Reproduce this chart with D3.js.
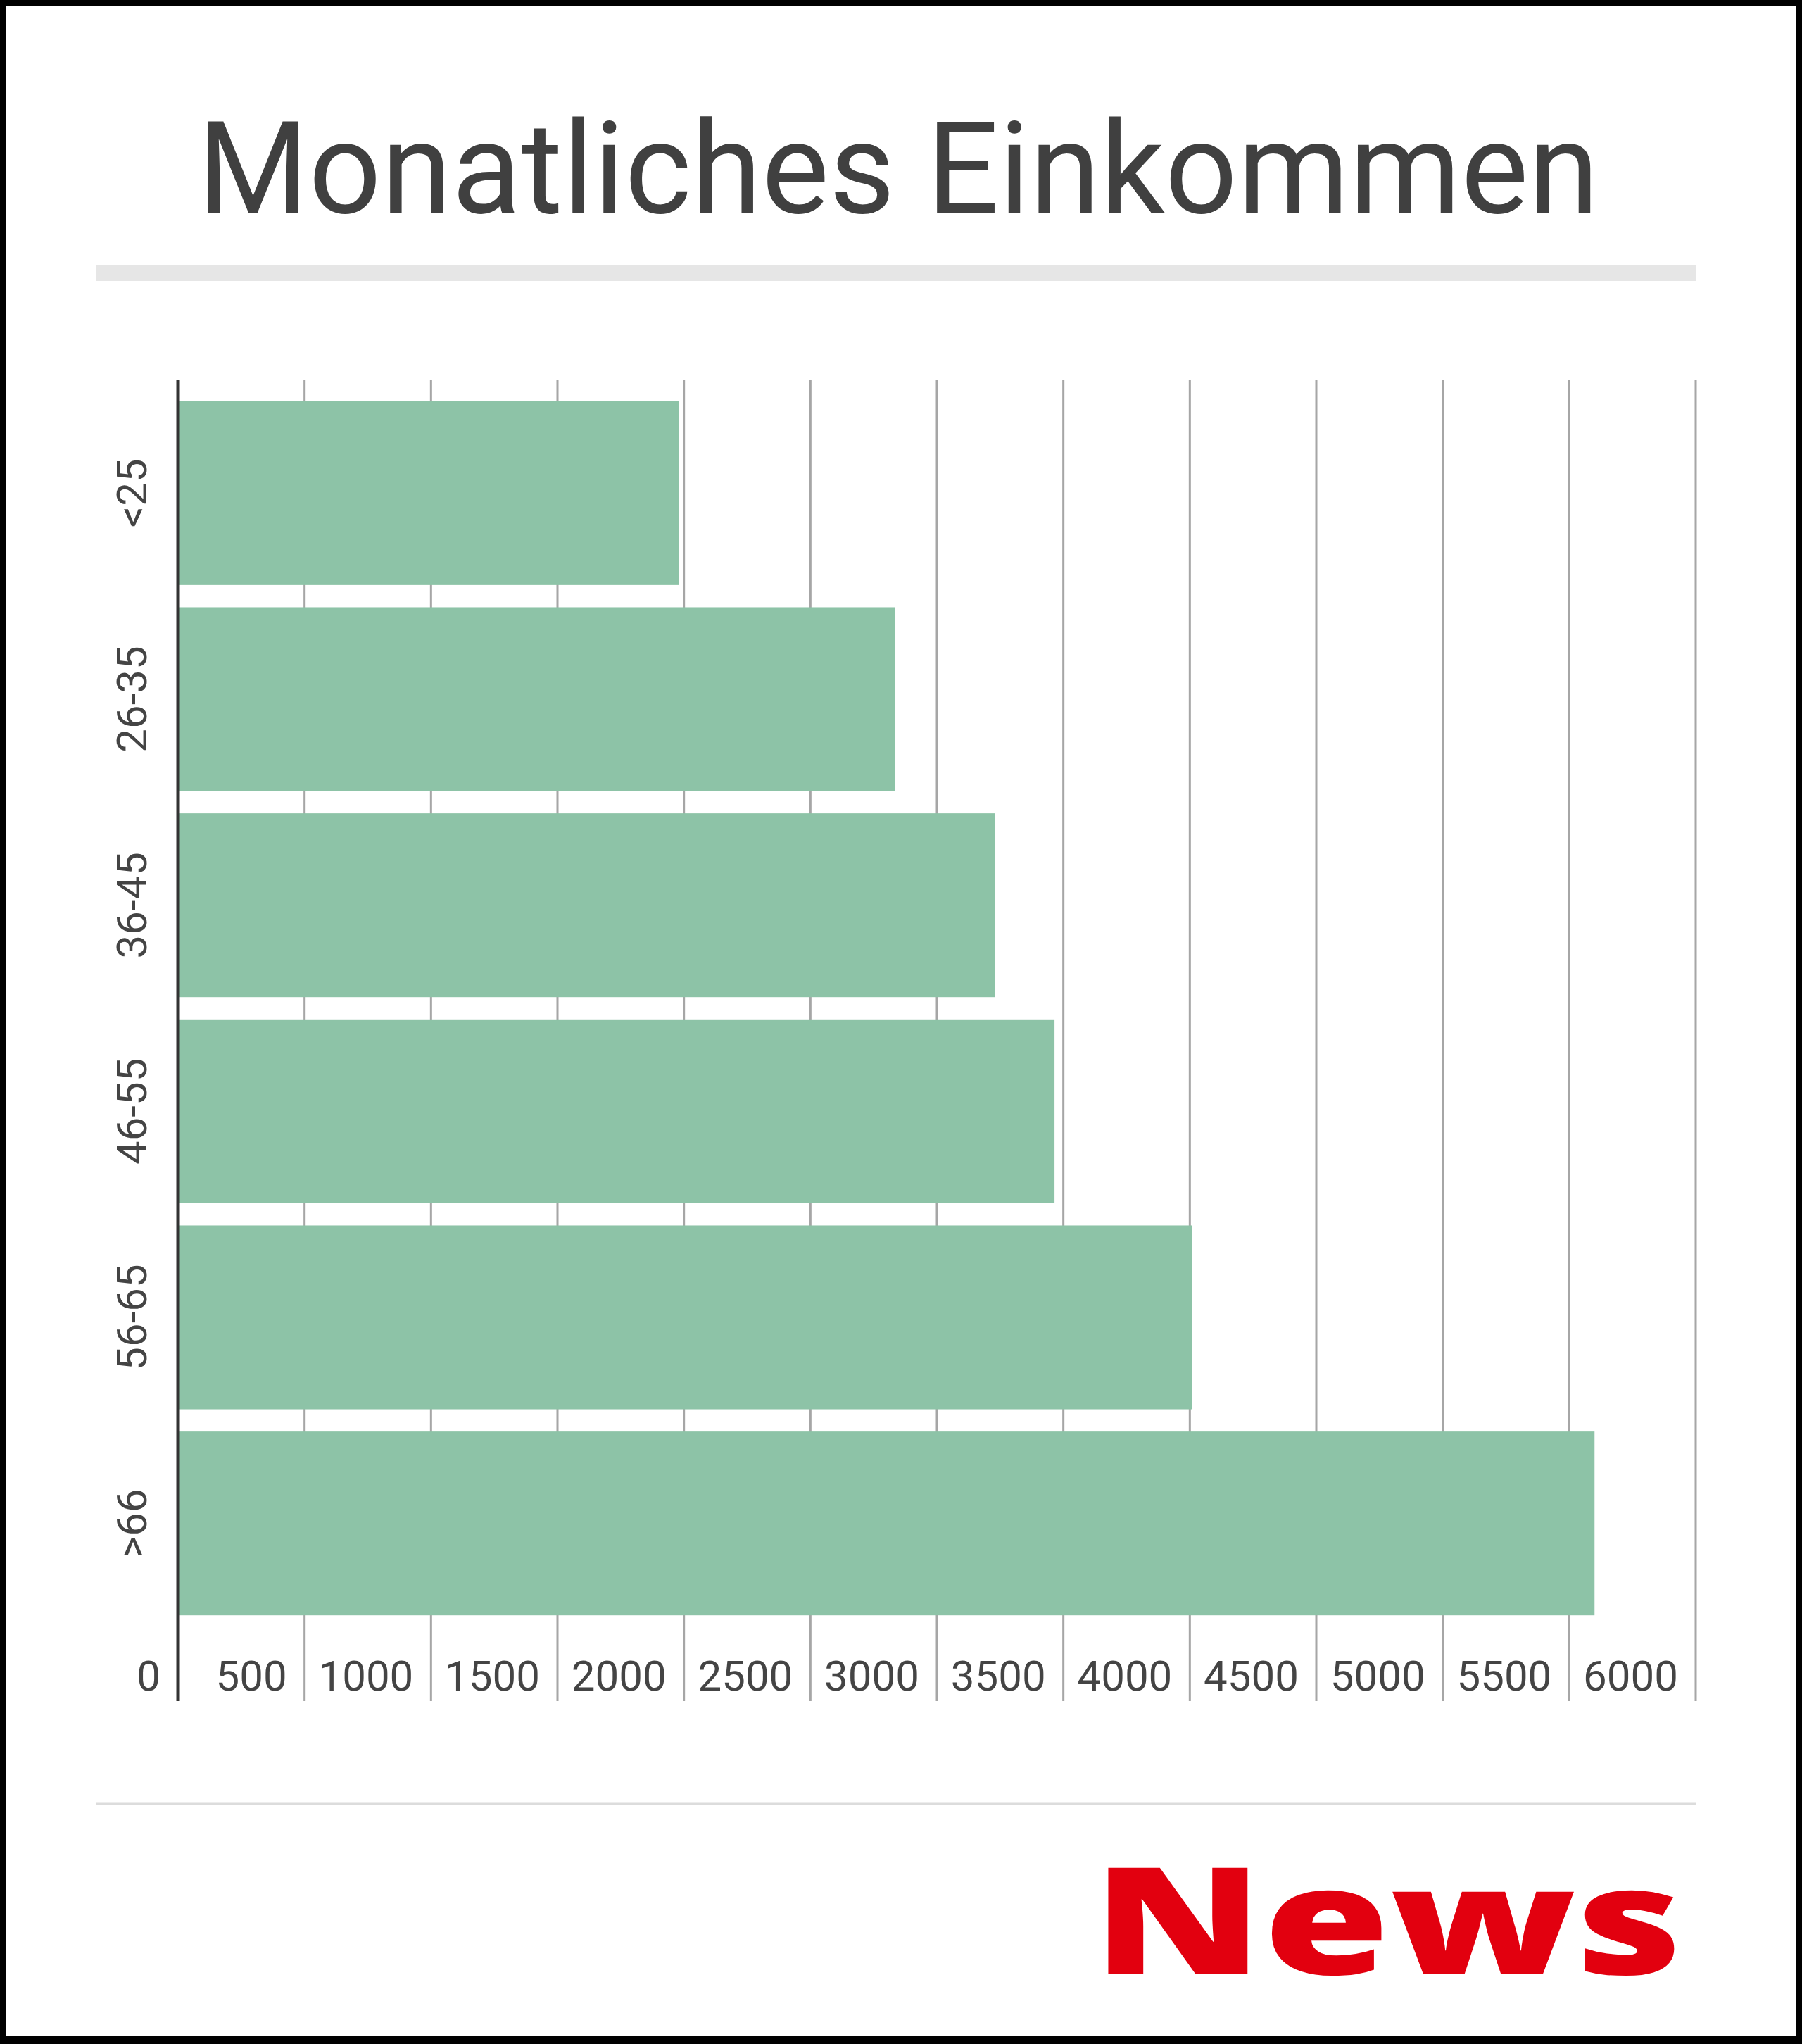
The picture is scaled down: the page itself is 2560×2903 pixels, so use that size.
<!DOCTYPE html>
<html>
<head>
<meta charset="utf-8">
<script src="https://cdn.jsdelivr.net/npm/d3@7"></script>
<style>
  html, body { margin: 0; padding: 0; background: #000; }
  svg { display: block; }
</style>
</head>
<body>
<div id="chart"></div>
<script>
// data
const categories = ["<25", "26-35", "36-45", "46-55", "56-65", ">66"];
const incomes = [1980, 2835, 3230, 3465, 4010, 5600];
const xTicks = [0, 500, 1000, 1500, 2000, 2500, 3000, 3500, 4000, 4500, 5000, 5500, 6000];
const titleText = "Monatliches Einkommen";
const logoText = "News";

const width = 2560, height = 2903;
const plot = { left: 253, right: 2409, top: 540, bottom: 2416 };

const svg = d3.select("#chart").append("svg")
    .attr("width", width)
    .attr("height", height);

// black frame + white card
svg.append("rect").attr("width", width).attr("height", height).attr("fill", "#000");
svg.append("rect")
    .attr("x", 8).attr("y", 8)
    .attr("width", width - 17).attr("height", height - 20)
    .attr("fill", "#fff");

// title
svg.append("text")
    .attr("x", 1276)
    .attr("y", 302)
    .attr("text-anchor", "middle")
    .attr("font-family", "Roboto, sans-serif")
    .attr("font-size", 181)
    .attr("fill", "#404040")
    .text(titleText);

svg.append("rect")
    .attr("x", 137).attr("y", 376)
    .attr("width", 2273).attr("height", 23)
    .attr("fill", "#e6e6e6");

const x = d3.scaleLinear()
    .domain([0, 6000])
    .range([plot.left, plot.right]);

const y = d3.scaleBand()
    .domain(categories)
    .range([554, 2310])
    .paddingInner(0.108)
    .paddingOuter(0.054);

// vertikale Gitterlinien
svg.append("g")
    .selectAll("line")
    .data(xTicks.slice(1))
    .join("line")
    .attr("x1", d => x(d)).attr("x2", d => x(d))
    .attr("y1", plot.top).attr("y2", plot.bottom)
    .attr("stroke", "#a6a6a6")
    .attr("stroke-width", 3);

// bars
svg.append("g")
    .selectAll("rect")
    .data(categories)
    .join("rect")
    .attr("x", x(0))
    .attr("y", d => y(d))
    .attr("width", (d, i) => x(incomes[i]) - x(0))
    .attr("height", y.bandwidth())
    .attr("fill", "#8dc3a7");

// axis line
svg.append("line")
    .attr("x1", x(0)).attr("x2", x(0))
    .attr("y1", plot.top).attr("y2", plot.bottom)
    .attr("stroke", "#333")
    .attr("stroke-width", 5);

// x tick labels (rechtsbündig links von der Linie)
svg.append("g")
    .selectAll("text")
    .data(xTicks)
    .join("text")
    .attr("x", d => x(d) - 25)
    .attr("y", 2401)
    .attr("text-anchor", "end")
    .attr("font-family", "Roboto, sans-serif")
    .attr("font-size", 60)
    .attr("fill", "#444")
    .text(d => d);

// y labels, rotated
svg.append("g")
    .selectAll("text")
    .data(categories)
    .join("text")
    .attr("transform", d => `translate(208,${y(d) + y.bandwidth() / 2}) rotate(-90)`)
    .attr("text-anchor", "middle")
    .attr("font-family", "Roboto, sans-serif")
    .attr("font-size", 60)
    .attr("fill", "#444")
    .text(d => d);

// footer
svg.append("line")
    .attr("x1", 137).attr("x2", 2410)
    .attr("y1", 2562).attr("y2", 2562)
    .attr("stroke", "#dcdcdc")
    .attr("stroke-width", 3);

svg.append("text")
    .attr("x", 1552)
    .attr("y", 2804)
    .attr("font-family", "'Open Sans', Roboto, sans-serif")
    .attr("font-weight", 800)
    .attr("font-size", 212)
    .attr("fill", "#e2000f")
    .attr("textLength", 838)
    .attr("lengthAdjust", "spacingAndGlyphs")
    .text(logoText);
</script>
</body>
</html>
